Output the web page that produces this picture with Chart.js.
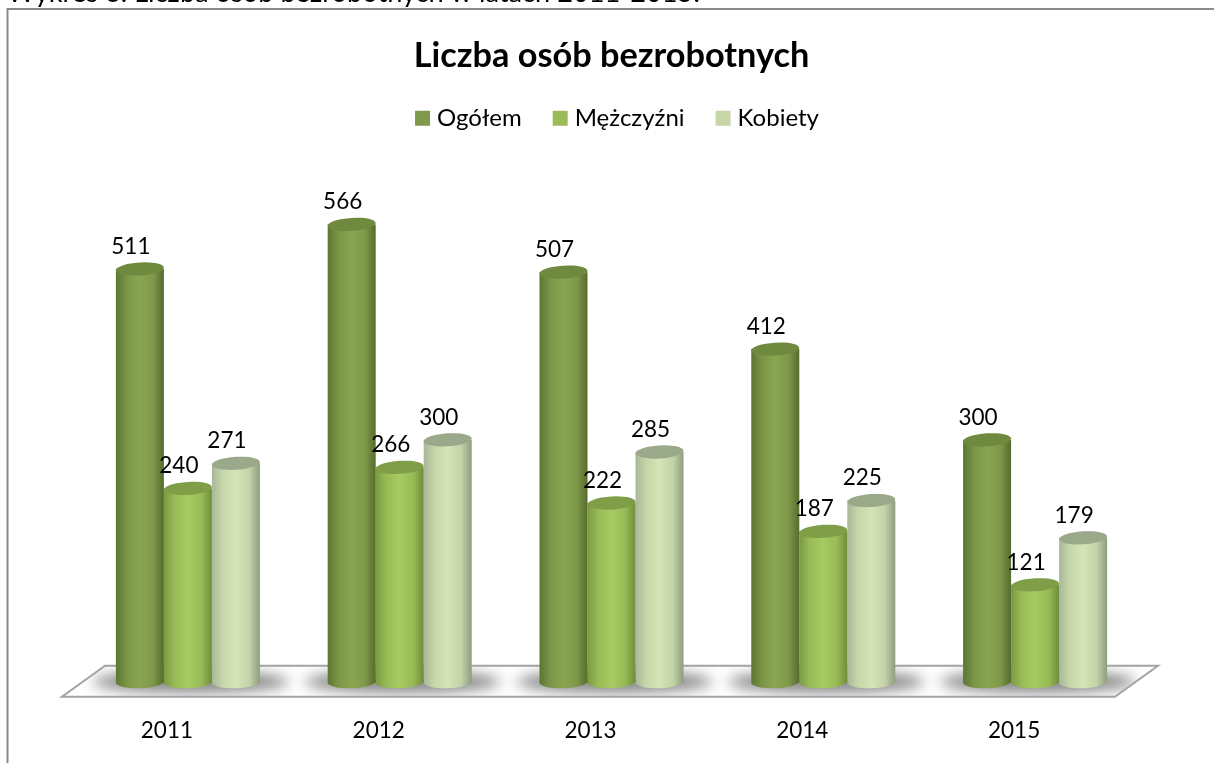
<!DOCTYPE html>
<html><head><meta charset="utf-8">
<style>html,body{margin:0;padding:0;background:#fff;overflow:hidden}canvas{display:block}</style>
<script src="https://cdn.jsdelivr.net/npm/chart.js@4"></script>
</head><body><canvas id="c" width="1214" height="763"></canvas>
<script>
const years = ['2011','2012','2013','2014','2015'];
const ogolem = [511,566,507,412,300];
const mezczyzni = [240,266,222,187,121];
const kobiety = [271,300,285,225,179];
const captionText = 'Wykres 6. Liczba osób bezrobotnych w latach 2011-2015.';
const titleText = 'Liczba osób bezrobotnych';
const seriesNames = ['Ogółem','Mężczyźni','Kobiety'];
const legendColors = ['#7f9a4a','#9bbb59','#c6d6a6'];
const barStops = [
  ['#5d7532','#7a9546','#8aa652','#7d9849','#566b2e'],
  ['#7a9a42','#98bb56','#a7cb61','#98bb56','#6f8d3b'],
  ['#a9b79a','#c6d6a8','#d4e4b6','#c4d3a8','#8f9c80']
];
const topColors = ['#6f8a3e','#7f9e47','#9aa98a'];
const FONT = 'Lato';

function barGradient(ctx){
  const chart = ctx.chart, sx = chart.scales.x;
  if (!sx || ctx.dataIndex === undefined) return legendColors[ctx.datasetIndex];
  const w = sx.width / years.length * 0.68 / 3;
  const x = sx.getPixelForTick(ctx.dataIndex) + (ctx.datasetIndex - 1) * w;
  const g = chart.ctx.createLinearGradient(x - w/2, 0, x + w/2, 0);
  const s = barStops[ctx.datasetIndex];
  [0,0.22,0.5,0.78,1].forEach((p,i)=>g.addColorStop(p,s[i]));
  return g;
}
function ds(label,data){return {label,data,backgroundColor:barGradient,borderWidth:0};}

const scene = {
  id:'scene',
  afterLayout(chart){ chart.legend.left += 16; },
  beforeDraw(chart){
    const c = chart.ctx;
    c.save();
    c.font = '27.2px '+FONT; c.fillStyle='#000'; c.textBaseline='alphabetic';
    c.fillText(captionText,7,2);
    c.strokeStyle='#8a8a8a'; c.lineWidth=2;
    c.beginPath(); c.moveTo(7.5,763); c.lineTo(7.5,9); c.lineTo(1214,9); c.stroke();
    c.restore();
  },
  beforeDatasetsDraw(chart){
    const c = chart.ctx, a = chart.chartArea, base = chart.scales.y.getPixelForValue(0), sx = chart.scales.x;
    const bl = [a.left-20, base+14], br=[a.right-26, base+14], tr=[a.right+17, base-17], tl=[a.left+23, base-17];
    const path=()=>{c.beginPath();c.moveTo(...bl);c.lineTo(...br);c.lineTo(...tr);c.lineTo(...tl);c.closePath();};
    c.save();
    path(); c.fillStyle='#fff'; c.fill();
    c.save(); path(); c.clip();
    c.filter='blur(7px)'; c.fillStyle='#868686';
    years.forEach((_,i)=>{
      const cx = sx.getPixelForTick(i);
      c.beginPath(); c.ellipse(cx+3,base-1,98,11,0,0,Math.PI*2); c.fill();
    });
    c.filter='none';
    c.restore();
    path(); c.strokeStyle='#a3a3a3'; c.lineWidth=2; c.lineJoin='miter'; c.stroke();
    c.restore();
  },
  afterDatasetDraw(chart,args){
    const c = chart.ctx, di = args.index;
    args.meta.data.forEach((el,i)=>{
      const rx = el.width/2, ry = 6.5, tilt = -3.5*Math.PI/180;
      const g = barGradient({chart,dataIndex:i,datasetIndex:di});
      c.save();
      c.fillStyle = g;
      c.beginPath(); c.ellipse(el.x,el.base-1,rx,ry,-2*Math.PI/180,0,Math.PI*2); c.fill();
      c.fillStyle = topColors[di];
      c.beginPath(); c.ellipse(el.x,el.y,rx,ry,tilt,0,Math.PI*2); c.fill();
      c.restore();
    });
  },
  afterDatasetsDraw(chart){
    const c = chart.ctx;
    c.save();
    c.font='22.5px '+FONT; c.fillStyle='#000'; c.textAlign='center'; c.textBaseline='middle';
    chart.data.datasets.forEach((d,di)=>{
      chart.getDatasetMeta(di).data.forEach((el,i)=>{
        c.fillText(String(d.data[i]), el.x-9, el.y-22.5);
      });
    });
    c.restore();
  }
};

new Chart(document.getElementById('c'),{
  type:'bar',
  data:{labels:years,datasets:[ds(seriesNames[0],ogolem),ds(seriesNames[1],mezczyzni),ds(seriesNames[2],kobiety)]},
  options:{
    responsive:false, animation:false,
    layout:{padding:{left:82,right:73,top:0,bottom:18.2}},
    datasets:{bar:{barPercentage:1,categoryPercentage:0.68}},
    plugins:{
      tooltip:{enabled:false},
      title:{display:true,text:titleText,color:'#000',font:{family:FONT,size:34.3,weight:'bold',lineHeight:0.85},padding:{top:41,bottom:0}},
      legend:{display:true,position:'top',labels:{
        color:'#000',font:{family:FONT,size:24},boxWidth:5,boxHeight:5,padding:36,
        generateLabels:()=>seriesNames.map((n,i)=>({text:n,fillStyle:legendColors[i],strokeStyle:legendColors[i],lineWidth:10,lineJoin:'miter',datasetIndex:i}))
      }}
    },
    scales:{
      x:{afterFit(scale){scale.height=62;},grid:{display:false,drawTicks:false},border:{display:false},ticks:{color:'#000',font:{family:FONT,size:22.5},padding:34.5,labelOffset:-21,maxRotation:0}},
      y:{display:false,min:0,max:670}
    }
  },
  plugins:[scene]
});
</script></body></html>
